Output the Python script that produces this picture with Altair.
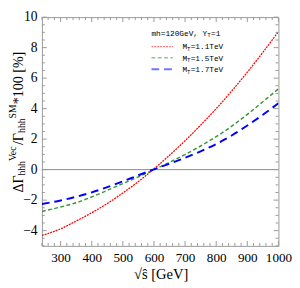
import altair as alt
import pandas as pd

# ---- data ----
s_vals = [240, 300, 350, 400, 450, 500, 550, 600, 650, 700, 750, 800, 850, 900, 950, 1000]
red_vals = [-4.32, -3.88, -3.37, -2.83, -2.22, -1.53, -0.78, 0.05, 0.94, 1.89, 2.92, 4.0, 5.16, 6.39, 7.69, 9.05]
green_vals = [-2.74, -2.45, -2.17, -1.79, -1.36, -0.92, -0.47, 0.0, 0.48, 0.99, 1.55, 2.16, 2.85, 3.62, 4.45, 5.3]
blue_vals = [-2.25, -2.02, -1.78, -1.49, -1.15, -0.77, -0.37, 0.02, 0.39, 0.78, 1.2, 1.68, 2.24, 2.89, 3.6, 4.35]
series_names = ["1.1TeV", "1.5TeV", "1.7TeV"]
x_major = [300, 400, 500, 600, 700, 800, 900, 1000]
x_minor = [v for v in range(240, 1001, 20) if v % 100 != 0]
y_major = [-4, -2, 0, 2, 4, 6, 8, 10]
y_minor = [v / 2 for v in range(-10, 21) if v % 4 != 0]

W, H = 244, 236
xs = alt.Scale(domain=[240, 1000], nice=False, zero=False)
ys = alt.Scale(domain=[-5, 10], nice=False, zero=False)

colors = ["#ff0000", "#3c963c", "#0000ff"]
dashes = [[2, 1], [4, 2.5], [8, 5]]
widths = [1.3, 1.5, 2.0]

df = pd.DataFrame({
    "s": s_vals * 3,
    "v": red_vals + green_vals + blue_vals,
    "series": sum([[n] * len(s_vals) for n in series_names], []),
})

SERIF = "Liberation Serif"
MONO = "Liberation Mono"

AX_X = alt.Axis(values=x_major, format="d", labelFont=SERIF, labelFontSize=13.5, labelColor="black",
                ticks=False, domain=False, grid=False, title=None, labelPadding=5,
                labelOverlap=False, labelFlush=False, labelBound=False)
AX_Y = alt.Axis(values=y_major, labelFont=SERIF, labelFontSize=14, labelColor="black",
                ticks=False, domain=False, grid=False, title=None, labelPadding=5,
                labelOverlap=False, labelFlush=False, labelBound=False)

layers = []

# zero line
layers.append(
    alt.Chart(pd.DataFrame({"z": [0]})).mark_rule(color="#888", strokeWidth=1).encode(
        y=alt.Y("z:Q", scale=ys, axis=AX_Y)
    )
)

# curves
for i, name in enumerate(series_names):
    layers.append(
        alt.Chart(df).transform_filter(alt.datum.series == name).mark_line(
            color=colors[i], strokeDash=dashes[i], strokeWidth=widths[i], interpolate="monotone", clip=True
        ).encode(
            x=alt.X("s:Q", scale=xs, axis=AX_X),
            y=alt.Y("v:Q", scale=ys, axis=AX_Y),
        )
    )

# frame ticks (inward)
def xticks(vals, ln):
    d = pd.DataFrame({"t": vals})
    return [
        alt.Chart(d).mark_rule(color="#999").encode(x=alt.X("t:Q", scale=xs, axis=AX_X), y=alt.value(H), y2=alt.value(H - ln)),
        alt.Chart(d).mark_rule(color="#999").encode(x=alt.X("t:Q", scale=xs, axis=AX_X), y=alt.value(0), y2=alt.value(ln)),
    ]

def yticks(vals, ln):
    d = pd.DataFrame({"t": vals})
    return [
        alt.Chart(d).mark_rule(color="#999").encode(y=alt.Y("t:Q", scale=ys, axis=AX_Y), x=alt.value(0), x2=alt.value(ln)),
        alt.Chart(d).mark_rule(color="#999").encode(y=alt.Y("t:Q", scale=ys, axis=AX_Y), x=alt.value(W - ln), x2=alt.value(W)),
    ]

layers += xticks(x_major, 5) + xticks(x_minor, 3) + yticks(y_major, 5) + yticks(y_minor, 3)

def txt(t, x, y, size, font=SERIF, angle=0, align="left", baseline="alphabetic", color="black"):
    return alt.Chart(pd.DataFrame({"t": [t]})).mark_text(
        font=font, fontSize=size, angle=angle, align=align, baseline=baseline, color=color
    ).encode(text="t:N", x=alt.value(x), y=alt.value(y))

# legend
layers.append(txt("mh=120GeV, Y", 113, 19, 8, MONO))
layers.append(txt("T", 170.6, 21, 6, MONO))
layers.append(txt("=1", 174.5, 19, 8, MONO))
row_y = [30.5, 42, 53.7]
for i, name in enumerate(series_names):
    layers.append(
        alt.Chart(pd.DataFrame({"t": [name]})).mark_rule(
            color=colors[i], strokeDash=dashes[i], strokeWidth=widths[i], opacity=0.55
        ).encode(x=alt.value(113), x2=alt.value(135), y=alt.value(row_y[i]))
    )
    layers.append(txt("M", 145, row_y[i] + 2.8, 8, MONO))
    layers.append(txt("T", 149.8, row_y[i] + 4.8, 6, MONO))
    layers.append(txt("=" + name, 153.5, row_y[i] + 2.8, 8, MONO))

# y title pieces (rotated)
bx = -20
layers.append(txt("ΔΓ", bx, 181, 14.5, angle=270))
layers.append(txt("hhh", bx + 3, 163.5, 10, angle=270))
layers.append(txt("Vec", bx - 7, 148.5, 10, angle=270))
layers.append(txt("/Γ", bx, 132, 14.5, angle=270))
layers.append(txt("hhh", bx + 3, 119.5, 10, angle=270))
layers.append(txt("SM", bx - 7, 104.5, 10, angle=270))
layers.append(txt("*100 [%]", bx, 90, 14.5, angle=270))

# x title
layers.append(txt("√ŝ [GeV]", 123, 270.5, 15, align="center"))

chart = alt.layer(*layers).properties(
    width=W, height=H,
    autosize=alt.AutoSizeParams(type="none"),
    padding={"left": 35, "top": 5, "right": 14, "bottom": 38},
).configure_view(stroke="#999", strokeWidth=1)

chart.save("out.html", embed_options={"renderer": "svg", "actions": False})
